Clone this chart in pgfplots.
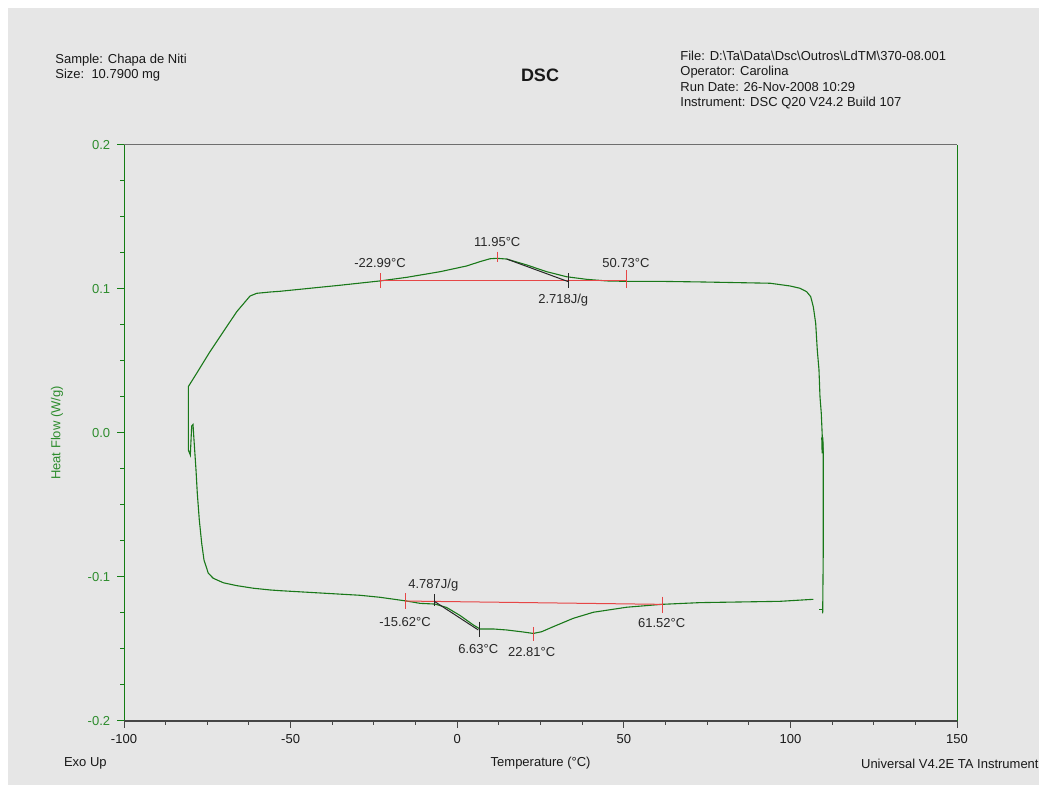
\documentclass[border=0pt]{standalone}
\usepackage{pgfplots}
\pgfplotsset{compat=1.18}
\usepackage{fontspec}
\setmainfont{Liberation Sans}

\definecolor{bggray}{RGB}{230,230,230}
\definecolor{curve}{RGB}{25,120,25}
\definecolor{axgreen}{RGB}{20,125,20}
\definecolor{lblgreen}{RGB}{45,140,45}
\definecolor{axgray}{RGB}{70,70,70}
\definecolor{topgray}{RGB}{110,110,110}
\definecolor{annred}{RGB}{230,70,70}
\definecolor{annblack}{RGB}{40,40,40}
\definecolor{txt}{RGB}{25,25,25}

\newcommand\sz{\fontsize{6.5}{7.5}\selectfont}

\begin{document}
\begin{tikzpicture}
\useasboundingbox (0,0) rectangle (519.5pt,392.5pt);
\fill[white] (0,0) rectangle (519.5pt,392.5pt);
\fill[bggray] (4pt,0) rectangle (519.5pt,388.5pt);

\begin{axis}[
at={(62pt,32pt)}, anchor=south west,
scale only axis,
width=416.5pt, height=288pt,
xmin=-100, xmax=150,
ymin=-0.2, ymax=0.2,
axis line style={draw=none},
tick align=outside,
tick pos=left,
xtick={-100,-50,0,50,100,150},
xticklabels={-100,-50,0,50,100,150},
ytick={-0.2,-0.1,0,0.1,0.2},
yticklabels={-0.2,-0.1,0.0,0.1,0.2},
minor x tick num=3,
minor y tick num=3,
major tick length=3.4pt,
minor tick length=1.8pt,
x tick style={color=axgray, line width=0.5pt},
y tick style={color=axgreen, line width=0.5pt},
ticklabel style={font=\sz, text=txt},
yticklabel style={text=lblgreen},
clip=false,
]
% main loop
\addplot [curve, line width=0.55pt] coordinates {
(106.87,-0.1155) (96.88,-0.1169) (72.87,-0.1178) (61.37,-0.1190)
(50.87,-0.1210) (40.85,-0.1245) (34.84,-0.1287) (28.84,-0.1345)
(25.36,-0.1380) (22.84,-0.1392) (19.84,-0.1382) (14.86,-0.1368)
(10.83,-0.1361) (6.84,-0.1361) (4.83,-0.1333) (0.84,-0.1267)
(-3.15,-0.1212) (-6.66,-0.1188) (-11.16,-0.1183) (-15.16,-0.1167)
(-23.17,-0.1141) (-29.17,-0.1127) (-41.18,-0.1111) (-53.18,-0.1095)
(-56.18,-0.1090) (-61.19,-0.1078) (-66.18,-0.1060) (-70.20,-0.1040)
(-73.20,-0.1009) (-74.70,-0.0974) (-75.99,-0.0882) (-76.68,-0.0766)
(-77.40,-0.0604) (-78.00,-0.0419) (-78.39,-0.0257) (-78.99,-0.0049)
(-79.29,0.0059) (-79.68,0.0049) (-80.10,-0.0153) (-80.70,-0.0118)
(-80.70,0.0322)
(-78.18,0.0415) (-74.19,0.0565) (-70.20,0.0703) (-66.18,0.0842)
(-62.18,0.0951) (-60.17,0.0970) (-56.18,0.0979) (-53.18,0.0984)
(-35.17,0.1026) (-23.17,0.1056) (-15.16,0.1081) (-5.16,0.1120)
(2.85,0.1160) (6.84,0.1190) (9.84,0.1210) (11.85,0.1213)
(14.86,0.1208) (20.86,0.1167) (26.86,0.1120) (32.86,0.1085)
(38.87,0.1067) (44.87,0.1056) (50.87,0.1053) (60.86,0.1053)
(72.87,0.1049) (93.88,0.1040) (99.88,0.1021) (102.88,0.1005)
(104.89,0.0981) (106.09,0.0947) (106.87,0.0877) (107.59,0.0762)
(108.07,0.0576) (108.58,0.0438) (108.88,0.0252) (109.27,0.0137)
(109.57,-0.0026) (109.87,-0.0141) (109.87,-0.0799) (109.69,-0.1252)
};
\addplot [curve, line width=0.55pt] coordinates {(108.67,-0.1224) (109.69,-0.1224)};
\addplot [curve, line width=1.1pt] coordinates {(109.57,-0.0030) (109.69,-0.0141)};

% upper annotation
\addplot [annred, line width=0.5pt] coordinates {(-22.99,0.1056) (50.73,0.1056)};
\addplot [annred, line width=0.5pt] coordinates {(-22.99,0.1109) (-22.99,0.1005)};
\addplot [annred, line width=0.5pt] coordinates {(50.73,0.1132) (50.73,0.1005)};
\addplot [annred, line width=0.5pt] coordinates {(11.95,0.1259) (11.95,0.1190)};
\addplot [annblack, line width=0.5pt] coordinates {(14.86,0.1208) (33.34,0.1051)};
\addplot [annblack, line width=0.5pt] coordinates {(33.34,0.1109) (33.34,0.1005)};
\node[font=\sz, text=annblack] at (axis cs:12.03,0.1328) {11.95°C};
\node[font=\sz, text=annblack] at (axis cs:-23.17,0.1178) {-22.99°C};
\node[font=\sz, text=annblack] at (axis cs:50.66,0.1178) {50.73°C};
\node[font=\sz, text=annblack] at (axis cs:31.84,0.0924) {2.718J/g};

% lower annotation
\addplot [annred, line width=0.5pt] coordinates {(-15.62,-0.1167) (61.52,-0.1190)};
\addplot [annred, line width=0.5pt] coordinates {(-15.62,-0.1113) (-15.62,-0.1224)};
\addplot [annred, line width=0.5pt] coordinates {(61.52,-0.1137) (61.52,-0.1248)};
\addplot [annred, line width=0.5pt] coordinates {(22.81,-0.1347) (22.81,-0.1442)};
\addplot [annblack, line width=0.5pt] coordinates {(-6.66,-0.1172) (6.33,-0.1368)};
\addplot [annblack, line width=0.5pt] coordinates {(-6.70,-0.1118) (-6.70,-0.1201)};
\addplot [annblack, line width=0.5pt] coordinates {(6.63,-0.1310) (6.63,-0.1415)};
\node[font=\sz, text=annblack] at (axis cs:-7.17,-0.1056) {4.787J/g};
\node[font=\sz, text=annblack] at (axis cs:-15.67,-0.1310) {-15.62°C};
\node[font=\sz, text=annblack] at (axis cs:6.33,-0.1502) {6.63°C};
\node[font=\sz, text=annblack] at (axis cs:22.36,-0.1519) {22.81°C};
\node[font=\sz, text=annblack] at (axis cs:61.37,-0.1322) {61.52°C};

% frame
\draw[axgreen, line width=0.5pt] (rel axis cs:0,0) -- (rel axis cs:0,1);
\draw[axgreen, line width=0.5pt] (rel axis cs:1,0) -- (rel axis cs:1,1);
\draw[axgray, line width=0.6pt] (rel axis cs:0,0) -- (rel axis cs:1,0);
\draw[topgray, line width=0.5pt] (rel axis cs:0,1) -- (rel axis cs:1,1);
\end{axis}

% labels around the axis
\node[font=\sz, text=lblgreen, rotate=90] at (28.5pt,176pt) {Heat Flow (W/g)};
\node[font=\sz, text=txt] at (270.3pt,10.75pt) {Temperature (°C)};
\node[font=\sz, text=txt, anchor=west, inner sep=0pt] at (31.8pt,10.75pt) {Exo Up};
\node[font=\sz, text=txt, anchor=east, inner sep=0pt] at (519.5pt,10.75pt) {Universal V4.2E TA Instrument};

% header
\node[font=\fontsize{9}{10}\selectfont\bfseries, text=txt] at (270pt,355pt) {DSC};
\node[font=\sz, text=txt, anchor=base west, inner sep=0pt] at (27.5pt,360.5pt) {Sample: Chapa de Niti};
\node[font=\sz, text=txt, anchor=base west, inner sep=0pt] at (27.5pt,353.3pt) {Size:\ \ 10.7900 mg};
\node[font=\sz, text=txt, anchor=base west, inner sep=0pt] at (340pt,362.1pt) {File: D:\textbackslash Ta\textbackslash Data\textbackslash Dsc\textbackslash Outros\textbackslash LdTM\textbackslash 370-08.001};
\node[font=\sz, text=txt, anchor=base west, inner sep=0pt] at (340pt,354.5pt) {Operator: Carolina};
\node[font=\sz, text=txt, anchor=base west, inner sep=0pt] at (340pt,346.6pt) {Run Date: 26-Nov-2008 10:29};
\node[font=\sz, text=txt, anchor=base west, inner sep=0pt] at (340pt,339.1pt) {Instrument: DSC Q20 V24.2 Build 107};
\end{tikzpicture}
\end{document}
